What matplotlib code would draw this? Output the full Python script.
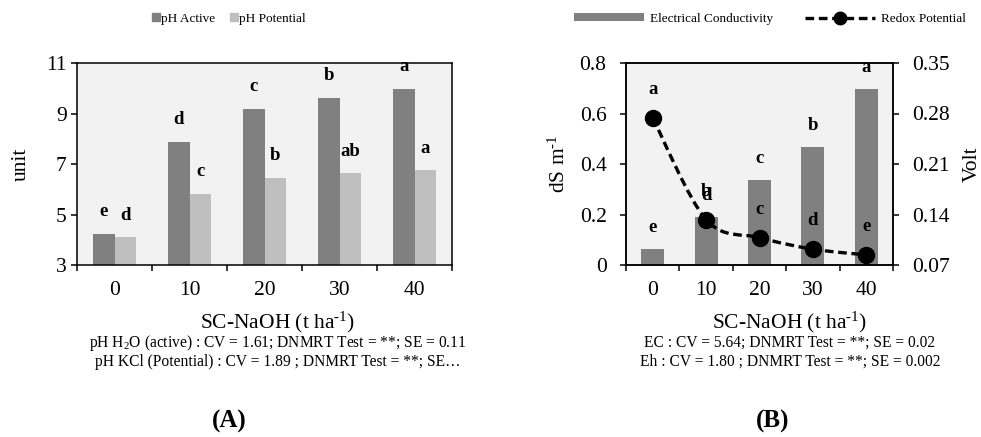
import matplotlib

matplotlib.use("Agg")
import matplotlib.pyplot as plt
import numpy as np
from matplotlib.lines import Line2D
from matplotlib.patches import Patch, PathPatch
from matplotlib.path import Path
from matplotlib.ticker import FuncFormatter

plt.rcParams["font.family"] = ["Liberation Serif", "DejaVu Serif"]
plt.rcParams["mathtext.fontset"] = "custom"
plt.rcParams["mathtext.rm"] = "Liberation Serif"
plt.rcParams["mathtext.it"] = "Liberation Serif:italic"
plt.rcParams["mathtext.bf"] = "Liberation Serif:bold"

# SC-NaOH doses (t ha-1)
DOSES = ["0", "10", "20", "30", "40"]

# panel A: soil pH
PH_ACTIVE = [4.22, 7.88, 9.19, 9.61, 9.98]
PH_POTENTIAL = [4.10, 5.82, 6.45, 6.63, 6.75]
PH_ACTIVE_LETTERS = ["e", "d", "c", "b", "a"]
PH_POTENTIAL_LETTERS = ["d", "c", "b", "ab", "a"]
PH_NOTES = [
    "pH H$_2$O (active) : CV = 1.61; DNMRT Test = **; SE = 0.11",
    "pH KCl (Potential) : CV = 1.89 ; DNMRT Test = **; SE\u2026",
]

# panel B: electrical conductivity (dS m-1) and redox potential (Volt)
EC = [0.062, 0.190, 0.335, 0.468, 0.698]
EH = [0.274, 0.133, 0.108, 0.092, 0.084]
EC_LETTERS = ["e", "d", "c", "b", "a"]
EH_LETTERS = ["a", "b", "c", "d", "e"]
EC_NOTES = [
    "EC : CV = 5.64; DNMRT Test = **; SE = 0.02",
    "Eh : CV = 1.80 ; DNMRT Test = **; SE = 0.002",
]

XLABEL = "SC-NaOH (t ha$^{\\text{-}1}$)"

DARK = "#808080"
LIGHT = "#bfbfbf"
PANEL_BG = "#f2f2f2"
W, H = 981, 437
TICK_FS = 15.5
LETTER_FS = 13.5
DASH = (0, (2.6, 1.4))


def _fx(px):
    return px / W


def _fy(py):
    return 1 - py / H


def _style_axes(ax):
    ax.set_facecolor(PANEL_BG)
    for spine in ax.spines.values():
        spine.set_linewidth(1.1)
    ax.set_xlim(-0.5, len(DOSES) - 0.5)
    ax.set_xticks(np.arange(len(DOSES) + 1) - 0.5)
    ax.set_xticklabels([])
    ax.set_xticks(np.arange(len(DOSES)), minor=True)
    ax.set_xticklabels(DOSES, minor=True)
    ax.tick_params(axis="x", which="major", direction="out", length=4.5, width=1.1)
    ax.tick_params(axis="x", which="minor", length=0, pad=11.5, labelsize=TICK_FS)
    ax.tick_params(axis="y", direction="out", length=4.5, width=1.1, labelsize=TICK_FS)


def _letters(ax, xs, ys, letters, offset):
    for x, y, s in zip(xs, ys, letters):
        ax.annotate(s, (x, y), xytext=(0, offset), textcoords="offset points",
                    ha="center", va="center", fontsize=LETTER_FS, fontweight="bold",
                    annotation_clip=False)


def _smooth_path(xs, ys):
    pts = np.column_stack([xs, ys]).astype(float)
    padded = np.vstack([pts[:1], pts, pts[-1:]])
    verts = [pts[0]]
    codes = [Path.MOVETO]
    for i in range(len(pts) - 1):
        p0, p1, p2, p3 = padded[i], padded[i + 1], padded[i + 2], padded[i + 3]
        verts += [p1 + (p2 - p0) / 6.0, p2 - (p3 - p1) / 6.0, p2]
        codes += [Path.CURVE4] * 3
    return Path(verts, codes)


def _notes(fig, cx, lines):
    fig.text(_fx(cx), _fy(322), XLABEL, ha="center", va="center", fontsize=15.5)
    fig.text(_fx(cx), _fy(343), lines[0], ha="center", va="center", fontsize=11.2)
    fig.text(_fx(cx), _fy(362), lines[1], ha="center", va="center", fontsize=11.2)


def _plot_ph(fig):
    ax = fig.add_axes([_fx(77), _fy(265), _fx(375), 202 / H])
    _style_axes(ax)
    x = np.arange(len(DOSES))
    bw = 0.285
    ax.bar(x - bw / 2, PH_ACTIVE, bw, color=DARK, zorder=2)
    ax.bar(x + bw / 2, PH_POTENTIAL, bw, color=LIGHT, zorder=2)
    ax.set_ylim(3, 11)
    ax.set_yticks([3, 5, 7, 9, 11])
    ax.tick_params(axis="y", pad=3)
    _letters(ax, x - bw / 2, PH_ACTIVE, PH_ACTIVE_LETTERS, 16)
    _letters(ax, x + bw / 2, PH_POTENTIAL, PH_POTENTIAL_LETTERS, 16)
    ax.set_ylabel("unit", fontsize=15.5)
    ax.yaxis.set_label_coords(-0.122, 0.5)

    handles = [
        Line2D([], [], ls="none", marker="s", ms=6, color=DARK, label="pH Active"),
        Line2D([], [], ls="none", marker="s", ms=6, color=LIGHT, label="pH Potential"),
    ]
    fig.legend(handles=handles, loc="center", bbox_to_anchor=(_fx(229), _fy(19)),
               ncol=2, frameon=False, fontsize=9.5, handlelength=0.6,
               handletextpad=0.1, columnspacing=1.1)

    _notes(fig, 278, PH_NOTES)
    fig.text(_fx(229), _fy(421), "(A)", ha="center", va="center", fontsize=18, fontweight="bold")


def _plot_ec(fig):
    ax = fig.add_axes([_fx(626), _fy(265), _fx(267), 202 / H])
    _style_axes(ax)
    x = np.arange(len(DOSES))
    ax.bar(x, EC, 0.43, color=DARK, zorder=2)
    ax.set_ylim(0, 0.8)
    ax.set_yticks([0, 0.2, 0.4, 0.6, 0.8])
    ax.yaxis.set_major_formatter(FuncFormatter(lambda v, _: "0" if v == 0 else f"{v:.1f}"))
    ax.tick_params(axis="y", pad=9.5)
    _letters(ax, x, EC, EC_LETTERS, 15.5)
    ax.set_ylabel("dS m$^{\\text{-}1}$", fontsize=15.5)
    ax.yaxis.set_label_coords(-0.21, 0.5)

    ax2 = ax.twinx()
    ax2.set_ylim(0.07, 0.35)
    ax2.set_yticks(np.round(np.arange(0.07, 0.351, 0.07), 2))
    ax2.yaxis.set_major_formatter(FuncFormatter(lambda v, _: f"{v:.2f}"))
    ax2.tick_params(axis="y", direction="out", length=4.5, width=1.1, labelsize=TICK_FS, pad=9)
    for spine in ax2.spines.values():
        spine.set_linewidth(1.1)
    curve = PathPatch(_smooth_path(x, EH), facecolor="none", edgecolor="black",
                      lw=2.4, linestyle=DASH, zorder=3)
    ax2.add_patch(curve)
    ax2.plot(x, EH, ls="none", marker="o", ms=11.5, color="black", zorder=4)
    _letters(ax2, x, EH, EH_LETTERS, 20.5)
    ax2.set_ylabel("Volt", fontsize=15.5)
    ax2.yaxis.set_label_coords(1.262, 0.5)

    handles = [
        Patch(facecolor=DARK, label="Electrical Conductivity"),
        Line2D([], [], color="black", lw=2.4, ls=DASH, marker="o", ms=9,
               label="Redox Potential"),
    ]
    fig.legend(handles=handles, loc="center", bbox_to_anchor=(_fx(770), _fy(19)),
               ncol=2, frameon=False, fontsize=9.5, handlelength=5.3,
               handleheight=0.55, handletextpad=0.45, columnspacing=2.4)

    _notes(fig, 790, EC_NOTES)
    fig.text(_fx(773), _fy(421), "(B)", ha="center", va="center", fontsize=18, fontweight="bold")


def main():
    fig = plt.figure(figsize=(W / 100, H / 100), dpi=100)
    _plot_ph(fig)
    _plot_ec(fig)
    fig.savefig("out.png", dpi=100)
    plt.close(fig)


if __name__ == "__main__":
    main()
